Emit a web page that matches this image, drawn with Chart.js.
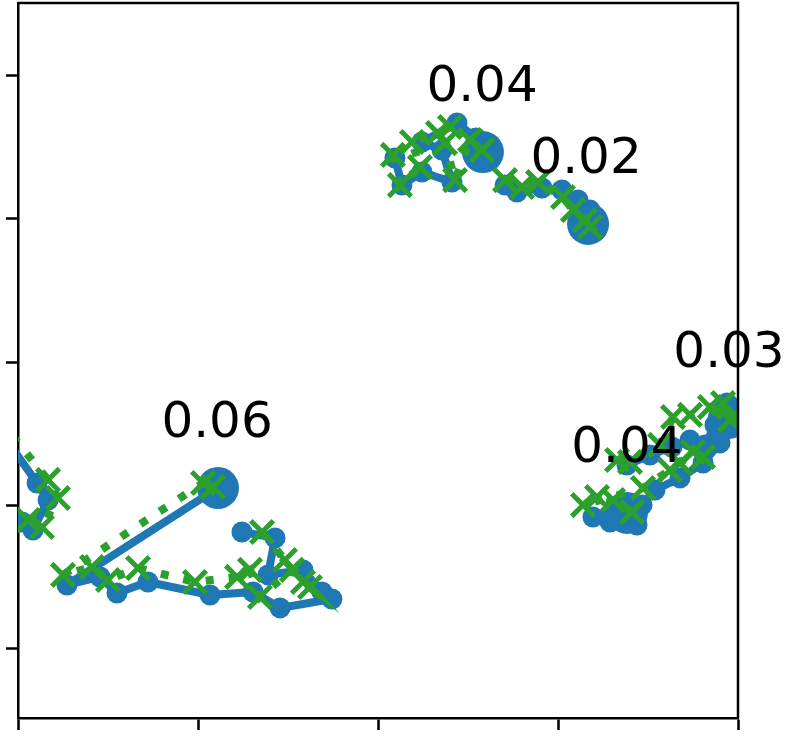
<!DOCTYPE html>
<html>
<head>
<meta charset="utf-8">
<script src="https://cdn.jsdelivr.net/npm/chart.js@4"></script>
<style>
  html, body { margin: 0; padding: 0; background: #fff; }
</style>
</head>
<body>
<canvas id="chart" width="787" height="737"></canvas>
<script>
const xTicks = [0, 10, 20, 30, 40];
const yTicks = [0, 10, 20, 30, 40];

const labelTexts = ['0.06', '0.04', '0.02', '0.03', '0.04'];
const labelX = [11.06, 25.78, 31.56, 39.5, 33.83];
const labelY = [14.77, 38.19, 33.17, 19.65, 13.03];

// trajectory ending near 0.06
const blueA = [[12.44, 8.15], [14.28, 7.74], [13.89, 5.16], [15.83, 5.51], [16.89, 3.97], [17.44, 3.48],
  [14.56, 2.86], [13.06, 3.97], [10.67, 3.76], [7.22, 4.67], [5.5, 3.9], [4.56, 5.02], [2.72, 4.46], [11.11, 11.22]];
const greenA = [[13.56, 8.15], [14.83, 6.2], [16.22, 4.32], [15.83, 4.67], [15.22, 5.51], [13.44, 3.62],
  [12.89, 5.51], [12.17, 5.02], [9.83, 4.67], [6.67, 5.64], [5.0, 4.81], [4.11, 5.71], [2.5, 5.16], [10.28, 11.57], [10.83, 11.29]];

// upper 0.04
const blueB = [[20.94, 34.22], [21.33, 32.33], [22.44, 33.24], [24.11, 32.54], [23.56, 34.77], [22.44, 35.33],
  [24.39, 36.66], [25.44, 35.61], [25.83, 34.63]];
const greenB = [[20.83, 34.43], [21.22, 32.33], [22.33, 33.59], [21.89, 35.33], [23.33, 35.96], [24.0, 36.38],
  [23.72, 35.26], [24.28, 32.68], [25.11, 35.47], [25.78, 34.77]];

// 0.02
const blueC = [[27.06, 32.33], [27.72, 31.85], [29.11, 32.13], [30.22, 31.99], [31.11, 31.29], [31.78, 30.59], [31.67, 29.62]];
const greenC = [[27.06, 32.68], [28.0, 32.2], [28.89, 32.54], [30.28, 31.5], [30.83, 30.59], [31.5, 29.9], [31.78, 29.41]];

// lower 0.04
const blueD = [[39.0, 14.36], [38.06, 12.96], [36.78, 11.92], [35.39, 11.08], [34.67, 10.03], [31.94, 9.2],
  [32.89, 8.85], [34.39, 8.64], [33.83, 9.48]];
const greenD = [[38.06, 13.38], [37.5, 13.73], [36.78, 12.96], [36.22, 12.47], [34.72, 11.22], [31.39, 10.03],
  [32.17, 10.59], [33.06, 10.38], [34.11, 9.55]];

// 0.03
const blueE = [[33.83, 12.82], [35.11, 13.52], [36.33, 14.08], [37.33, 14.56], [38.17, 14.22], [38.72, 15.61],
  [39.39, 17.14], [39.94, 16.66], [39.5, 16.1]];
const greenE = [[33.28, 13.17], [34.0, 13.03], [35.67, 14.22], [36.39, 16.17], [37.33, 16.31], [38.44, 16.86],
  [39.17, 17.14], [39.72, 16.17], [39.56, 15.96]];

// piece cut by the left edge
const blueEdge = [[-1.11, 15.4], [1.06, 11.57], [1.67, 10.38], [0.83, 8.29], [0.22, 8.85], [-1.28, 8.99]];
const greenEdge = [[-1.11, 16.1], [1.67, 11.78], [2.22, 10.52], [1.33, 8.5], [0.56, 8.99], [-1.28, 9.13]];

const BLUE = '#1f77b4';
const GREEN = '#2ca02c';

function toPoints(arr) {
  return arr.map(([x, y]) => ({ x, y }));
}

function blueSet(arr, bigEnd = true) {
  const n = arr.length;
  return {
    data: toPoints(arr),
    borderColor: BLUE,
    backgroundColor: BLUE,
    borderWidth: 8,
    borderJoinStyle: 'round',
    borderCapStyle: 'round',
    pointRadius: arr.map((_, i) => (bigEnd && i === n - 1 ? 21 : 10.5)),
    pointBorderWidth: 0,
    pointBackgroundColor: BLUE,
    clip: 0,
    order: 2,
  };
}

function greenSet(arr) {
  return {
    data: toPoints(arr),
    borderColor: GREEN,
    backgroundColor: GREEN,
    borderWidth: 8,
    borderDash: [8, 15],
    borderCapStyle: 'butt',
    pointStyle: 'crossRot',
    pointRadius: 16,
    pointBorderWidth: 5,
    pointBorderColor: GREEN,
    clip: 0,
    order: 1,
  };
}

const framePlugin = {
  id: 'frame',
  afterDraw(chart) {
    const { ctx, chartArea: a } = chart;
    ctx.save();
    ctx.strokeStyle = '#000';
    ctx.lineWidth = 2.5;
    ctx.beginPath();
    ctx.moveTo(a.left, a.top);
    ctx.lineTo(a.right, a.top);
    ctx.lineTo(a.right, a.bottom);
    ctx.stroke();
    ctx.restore();
  },
};

const labelPlugin = {
  id: 'labels',
  afterDatasetsDraw(chart) {
    const { ctx, scales } = chart;
    ctx.save();
    ctx.font = '50px "DejaVu Sans"';
    ctx.fillStyle = '#000';
    ctx.textAlign = 'center';
    ctx.textBaseline = 'alphabetic';
    labelTexts.forEach((t, i) => {
      ctx.fillText(t, scales.x.getPixelForValue(labelX[i]), scales.y.getPixelForValue(labelY[i]));
    });
    ctx.restore();
  },
};

const axisStyle = {
  grid: { drawOnChartArea: false, color: '#000', tickLength: 12, tickWidth: 2.5 },
  border: { display: true, color: '#000', width: 2.5 },
  ticks: { display: false },
};

new Chart(document.getElementById('chart'), {
  type: 'line',
  data: {
    datasets: [
      blueSet(blueA), greenSet(greenA),
      blueSet(blueB), greenSet(greenB),
      blueSet(blueC), greenSet(greenC),
      blueSet(blueD), greenSet(greenD),
      blueSet(blueE), greenSet(greenE),
      blueSet(blueEdge, false), greenSet(greenEdge),
    ],
  },
  options: {
    responsive: false,
    animation: false,
    events: [],
    layout: { autoPadding: false, padding: { left: 6, top: 3, right: 49, bottom: 7 } },
    plugins: { legend: { display: false }, tooltip: { enabled: false } },
    elements: { line: { tension: 0 } },
    scales: {
      x: {
        type: 'linear', min: 0, max: 40, ...axisStyle,
        afterBuildTicks(scale) { scale.ticks = xTicks.map((v) => ({ value: v })); },
      },
      y: {
        type: 'linear', min: -4.81, max: 45.02, ...axisStyle,
        afterBuildTicks(scale) { scale.ticks = yTicks.map((v) => ({ value: v })); },
      },
    },
  },
  plugins: [framePlugin, labelPlugin],
});
</script>
</body>
</html>
